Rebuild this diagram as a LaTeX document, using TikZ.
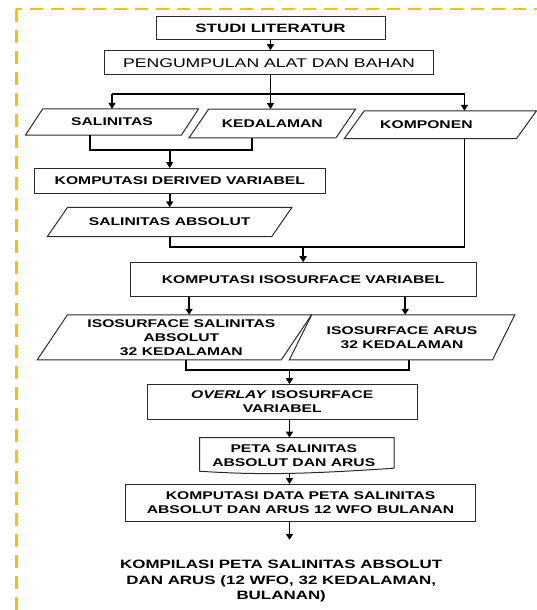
\documentclass[tikz,border=0pt]{standalone}
\usepackage{fontspec}
\setmainfont{Liberation Sans}[FakeStretch=1.4]
\usetikzlibrary{arrows.meta,calc}
\definecolor{dashy}{HTML}{FFC000}
\definecolor{edge}{HTML}{2A2A2A}
\begin{document}
\begin{tikzpicture}[x=1pt,y=-1pt,
  every node/.style={inner sep=0pt, align=center},
  fbase/.style={font=\fontsize{11.2}{14}\selectfont\bfseries},
  box/.style={draw=edge, line width=1pt, fbase},
  para/.style={fbase},
  outl/.style={draw=edge, line width=1pt},
  conn/.style={line width=1.7pt, black},
  arr/.style={conn, -{Triangle[width=7pt,length=6pt]}},
  frame/.style={dashy, line width=2.6pt, dash pattern=on 13pt off 8pt},
]
\useasboundingbox (0,0) rectangle (537,610);

% dashed frame
\coordinate (fc) at (16.4,9.2);
\coordinate (fb) at (16.4,625);
\coordinate (fr) at (550,9.2);
\draw[frame] (fc) -- (fb);
\draw[frame, dash phase=7pt] (fc) -- (fr);

% nodes
\node[box, minimum width=229, minimum height=23, font=\fontsize{12.1}{14}\selectfont\bfseries] (studi) at (270.5,27.9) {STUDI LITERATUR};
\node[box, minimum width=328.8, minimum height=24, font=\fontsize{12.6}{14}\selectfont] (peng) at (268.9,62.7) {PENGUMPULAN ALAT DAN BAHAN};

\node[para, minimum width=155.5, minimum height=25.7] (sal) at (112,122) {SALINITAS};
\node[para, minimum width=146.6, minimum height=28.5] (ked) at (272.3,123.5) {KEDALAMAN};
\node[para, minimum width=171.8, minimum height=27.4,
      label={[fbase, xshift=-14pt]center:KOMPONEN}] (komp) at (440.4,124.7) {};

\node[box, minimum width=291.1, minimum height=24.7] (der) at (179.85,180.85) {KOMPUTASI DERIVED VARIABEL};
\node[para, minimum width=224, minimum height=28.8] (salabs) at (169.7,221.9) {SALINITAS ABSOLUT};

\node[box, minimum width=345.9, minimum height=34.2] (iso) at (303.15,279.8) {KOMPUTASI ISOSURFACE VARIABEL};
\node[para, minimum width=243.7, minimum height=44.6,
      label={[fbase, xshift=7pt]center:ISOSURFACE SALINITAS\\ABSOLUT\\32 KEDALAMAN}] (isosal) at (174.4,337.3) {};
\node[para, minimum width=202.8, minimum height=44.6] (isoarus) at (402.1,337.3) {ISOSURFACE ARUS\\32 KEDALAMAN};

\node[box, minimum width=269.9, minimum height=34.3] (ovl) at (282.25,401.85) {\textit{OVERLAY} ISOSURFACE\\VARIABEL};
\node[minimum width=194.2, minimum height=30.2,
      label={[fbase, xshift=-3pt, yshift=-3pt]center:PETA SALINITAS\\ABSOLUT DAN ARUS}] (peta) at (296.8,452.9) {};
\node[box, minimum width=349.7, minimum height=36.6] (data) at (300.55,502.8) {KOMPUTASI DATA PETA SALINITAS\\ABSOLUT DAN ARUS 12 WFO BULANAN};
\node[font=\fontsize{12.1}{15.5}\selectfont\bfseries] (fin) at (281.2,581.5) {KOMPILASI PETA SALINITAS ABSOLUT\\DAN ARUS (12 WFO, 32 KEDALAMAN,\\BULANAN)};

% parallelogram outlines
\foreach \n/\s in {sal/8.55, ked/9.9, komp/10, salabs/10.1, isosal/15.1, isoarus/11.15}
  \draw[outl] ($(\n.north west)+(\s,0)$) -- ($(\n.north east)+(\s,0)$) -- ($(\n.south east)+(-\s,0)$) -- ($(\n.south west)+(-\s,0)$) -- cycle;

% document shape outline
\draw[outl] (peta.south east) -- (peta.north east) -- (peta.north west) -- ($(peta.south west)+(0,3)$)
  .. controls ($(peta.south west)+(60,7)$) and ($(peta.south east)+(-90,6)$) .. (peta.south east);

% helper coordinates
\coordinate (bry) at (0,94.2);
\coordinate (komcol) at (464.5,0);
\coordinate (m1) at (0,150.3);
\coordinate (m2) at (0,247.3);
\coordinate (m3) at (0,369.9);
\coordinate (colA) at (289.5,0);
\coordinate (fend) at (289.5,539.9);
\coordinate (s1) at ($(sal.south)+(-21.9,0)$);
\coordinate (k1) at ($(ked.south)+(-20.6,0)$);
\coordinate (a1) at ($(isosal.north)+(14.7,0)$);
\coordinate (a2) at ($(isoarus.north)+(3.1,0)$);
\coordinate (b1) at ($(isosal.south)+(11.6,0)$);
\coordinate (b2) at ($(isoarus.south)+(7.2,0)$);

% connectors
\draw[arr] (studi.south) -- (studi.south |- peng.north);
\draw[conn] (studi.south |- peng.south) -- (studi.south |- bry);
\draw[conn] (sal.north |- bry) -- (komcol |- bry);
\draw[arr] (sal.north |- bry) -- (sal.north);
\draw[arr] (studi.south |- bry) -- (studi.south |- ked.north);
\draw[arr] (komcol |- bry) -- (komcol |- komp.north);

\draw[conn] (s1) |- (k1 |- m1) -- (k1);
\draw[arr] (salabs.north |- m1) -- (salabs.north |- der.north);
\draw[arr] (salabs.north |- der.south) -- (salabs.north);

\draw[conn] (salabs.south) |- (komcol |- m2) -- (komcol |- komp.south);
\draw[arr] (iso.north |- m2) -- (iso.north);

\draw[arr] (a1 |- iso.south) -- (a1);
\draw[arr] (a2 |- iso.south) -- (a2);

\draw[conn] (b1) |- (b2 |- m3) -- (b2);
\draw[arr] (colA |- m3) -- (colA |- ovl.north);
\draw[arr] (colA |- ovl.south) -- (colA |- peta.north);
\draw[arr] ($(colA |- peta.south)+(0,5)$) -- (colA |- data.north);
\draw[arr] (colA |- data.south) -- (fend);
\end{tikzpicture}
\end{document}
